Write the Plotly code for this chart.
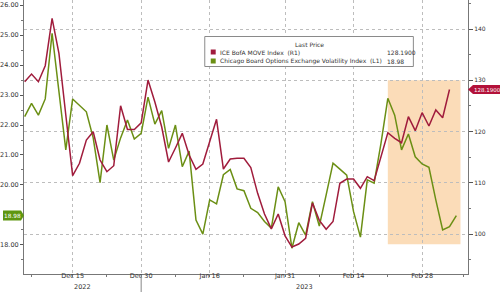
import plotly.graph_objects as go

# ---- data (trading-day index series) ----
vix = [22.28, 22.72, 22.33, 22.87, 25.06, 23.10, 21.17, 22.87, 22.67, 22.44,
       21.57, 20.08, 22.00, 20.83, 21.57, 22.17, 21.53, 21.72, 22.93, 22.03,
       22.48, 21.22, 22.00, 20.61, 21.13, 18.83, 18.36, 19.50, 19.37, 20.34,
       20.52, 19.87, 19.81, 19.22, 19.08, 18.78, 18.56, 19.94, 19.44, 17.89,
       18.74, 18.33, 19.44, 18.63, 19.67, 20.73, 20.53, 20.33, 19.11, 18.26,
       20.17, 20.06, 21.39, 22.89, 22.33, 21.17, 21.70, 20.94, 20.70, 20.59,
       19.50, 18.50, 18.61, 18.98]
move = [129.72, 131.22, 129.72, 132.84, 142.09, 135.26, 123.22, 111.38, 113.80, 118.34,
        119.96, 114.44, 112.16, 113.33, 125.03, 120.39, 120.39, 121.70, 130.05, 125.76,
        120.88, 114.05, 116.78, 119.65, 115.41, 112.62, 113.66, 118.01, 122.38, 112.68,
        114.63, 114.77, 114.77, 112.98, 107.94, 103.90, 101.01, 103.90, 99.65, 97.46,
        98.05, 99.16, 106.05, 102.67, 100.92, 102.44, 109.89, 110.73, 110.73, 108.92,
        111.18, 110.40, 115.08, 119.77, 118.67, 117.81, 122.89, 120.16, 123.67, 121.07,
        124.20, 122.69, 128.19]

tick_pos = [7, 17, 27, 38, 48, 58]
tick_text = ["Dec 15", "Dec 30", "Jan 16", "Jan 31", "Feb 14", "Feb 28"]
minor_pos = [1, 12, 22, 32, 43, 53, 64]
year_pos = [8.5, 40.8]
year_text = ["2022", "2023"]

left_ticks = [18, 19, 20, 21, 22, 23, 24, 25, 26]
left_text = ["18.00", "", "20.00", "21.00", "22.00", "23.00", "24.00", "25.00", "26.00"]
right_ticks = [100, 110, 120, 130, 140]

RED = "#A01C3C"
GREEN = "#6B8F14"
FONT = "DejaVu Sans"

W, H = 500, 292
ML, MR, MT, MB = 21, 32, 0, 18
PW, PH = W - ML - MR, H - MT - MB


def px(x):
    return (x - ML) / PW


def py(y):
    return 1 - (y - MT) / PH


fig = go.Figure()
fig.add_trace(go.Scatter(x=list(range(len(move))), y=move, mode="lines",
                         line=dict(color=RED, width=1.5), yaxis="y2", name="MOVE"))
fig.add_trace(go.Scatter(x=list(range(len(vix))), y=vix, mode="lines",
                         line=dict(color=GREEN, width=1.5), yaxis="y", name="VIX"))

# shaded highlight region
fig.add_shape(type="rect", xref="x", yref="y2", x0=53, x1=63.6, y0=98, y1=130,
              fillcolor="#FBD8B0", line=dict(width=0), layer="below", opacity=0.9)

# legend box
LF = 6
fig.add_shape(type="rect", xref="paper", yref="paper", x0=px(203), x1=px(413),
              y0=py(66.5), y1=py(36.5), fillcolor="white",
              line=dict(color="#8a8a8a", width=1), layer="above")
fig.add_annotation(xref="paper", yref="paper", x=px(308), y=py(44), text="Last Price",
                   showarrow=False, font=dict(family=FONT, size=LF, color="#333"),
                   xanchor="center", yanchor="middle")
fig.add_shape(type="rect", xref="paper", yref="paper", x0=px(209), x1=px(214),
              y0=py(54.5), y1=py(49.5), fillcolor=RED, line=dict(width=0))
fig.add_shape(type="rect", xref="paper", yref="paper", x0=px(209), x1=px(214),
              y0=py(63.5), y1=py(58.5), fillcolor=GREEN, line=dict(width=0))
fig.add_annotation(xref="paper", yref="paper", x=px(216), y=py(52),
                   text="ICE BofA MOVE Index  (R1)", showarrow=False,
                   font=dict(family=FONT, size=LF, color="#333"),
                   xanchor="left", yanchor="middle")
fig.add_annotation(xref="paper", yref="paper", x=px(216), y=py(61),
                   text="Chicago Board Options Exchange Volatility Index  (L1)",
                   showarrow=False, font=dict(family=FONT, size=LF, color="#333"),
                   xanchor="left", yanchor="middle")
fig.add_annotation(xref="paper", yref="paper", x=px(384), y=py(52),
                   text=f"{move[-1]:.4f}", showarrow=False,
                   font=dict(family=FONT, size=LF, color="#333"),
                   xanchor="left", yanchor="middle")
fig.add_annotation(xref="paper", yref="paper", x=px(384), y=py(61),
                   text=f"{vix[-1]:.2f}", showarrow=False,
                   font=dict(family=FONT, size=LF, color="#333"),
                   xanchor="left", yanchor="middle")

# last value tags
fig.add_shape(type="path", xref="paper", yref="y2", xsizemode="pixel", ysizemode="pixel",
              xanchor=1, yanchor=move[-1],
              path="M 0 0 L 5 4.5 L 32 4.5 L 32 -4.5 L 5 -4.5 Z",
              fillcolor="#B3123A", line=dict(width=0))
fig.add_annotation(xref="paper", yref="y2", x=1, y=move[-1], xshift=4,
                   text=f"{move[-1]:.4f}", showarrow=False,
                   font=dict(family=FONT, size=5.5, color="white"),
                   xanchor="left", yanchor="middle")
fig.add_shape(type="path", xref="paper", yref="y", xsizemode="pixel", ysizemode="pixel",
              xanchor=0, yanchor=vix[-1],
              path="M 0 0 L -3 5 L -21 5 L -21 -5 L -3 -5 Z",
              fillcolor="#5E9610", line=dict(width=0))
fig.add_annotation(xref="paper", yref="y", x=0, y=vix[-1], xshift=-11.5,
                   text=f"{vix[-1]:.2f}", showarrow=False,
                   font=dict(family=FONT, size=5.8, color="white"),
                   xanchor="center", yanchor="middle")

# year labels and separator
for xp, t in zip(year_pos, year_text):
    fig.add_annotation(xref="x", yref="paper", x=xp, y=py(287), text=t,
                       showarrow=False, font=dict(family=FONT, size=6.5, color="#333"),
                       xanchor="center", yanchor="middle")
fig.add_shape(type="line", xref="x", yref="paper", x0=tick_pos[1], x1=tick_pos[1],
              y0=py(275), y1=py(292), line=dict(color="#888", width=1))

fig.update_layout(
    width=W, height=H,
    margin=dict(l=ML, r=MR, t=MT, b=MB),
    paper_bgcolor="white", plot_bgcolor="white",
    showlegend=False,
    font=dict(family=FONT, size=6.5, color="#333"),
    xaxis=dict(range=[-0.1, 64.7], tickmode="array", tickvals=tick_pos, ticktext=tick_text,
               showgrid=True, gridcolor="#bdbdbd", griddash="dot", gridwidth=1,
               showline=True, linecolor="#777", linewidth=1,
               ticks="outside", ticklen=2, tickcolor="#777", ticklabelstandoff=-7,
               minor=dict(tickmode="array", tickvals=minor_pos, ticks="outside",
                          ticklen=2, tickcolor="#777", showgrid=False),
               tickfont=dict(family=FONT, size=6.5, color="#333"), zeroline=False),
    yaxis=dict(range=[17.03, 26.17], tickmode="array", tickvals=left_ticks,
               ticktext=left_text,
               showgrid=False, showline=True, linecolor="#777", linewidth=1,
               ticks="outside", ticklen=3, tickcolor="#555",
               minor=dict(dtick=0.5, ticks="outside", ticklen=2, tickcolor="#777", showgrid=False),
               tickfont=dict(family=FONT, size=6.5, color="#333"), zeroline=False),
    yaxis2=dict(range=[92.2, 145.66], overlaying="y", side="right",
                tickmode="array", tickvals=right_ticks,
                showgrid=True, gridcolor="#bdbdbd", griddash="dot", gridwidth=1,
                showline=True, linecolor="#777", linewidth=1,
                ticks="outside", ticklen=4, tickcolor="#555",
                minor=dict(dtick=5, tick0=95, ticks="outside", ticklen=2, tickcolor="#777", showgrid=False),
                tickfont=dict(family=FONT, size=6, color="#333"), zeroline=False),
)

fig.write_html("out.html")
